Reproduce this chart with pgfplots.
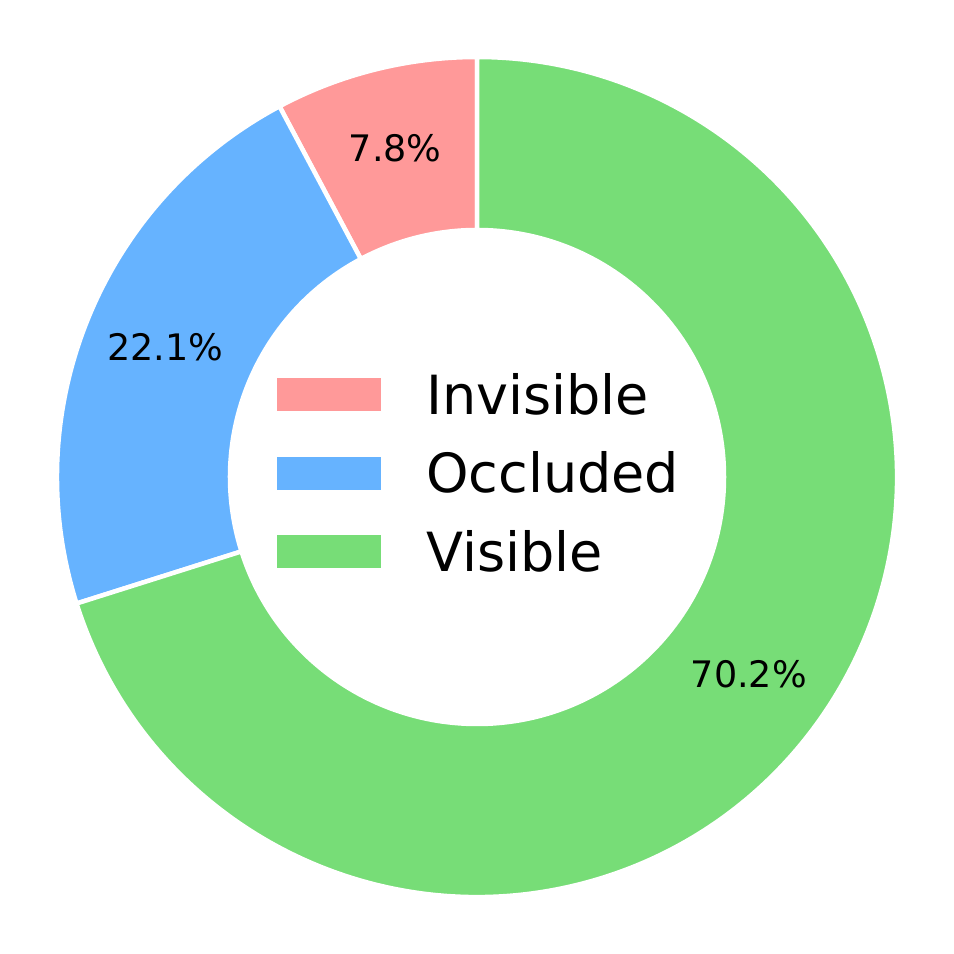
\documentclass[border=0pt]{standalone}
\usepackage{pgfplots}
\pgfplotsset{compat=1.18}
\usepackage{pgfplotstable}
\usepackage{fontspec}
\setmainfont{DejaVu Sans}

\definecolor{invis}{HTML}{FF9999}
\definecolor{occl}{HTML}{66B3FF}
\definecolor{vis}{HTML}{77DD77}

\newcommand\labelfont{\fontsize{36.5}{44}\selectfont}

% share of each class, in percent
\pgfplotstableread{
name      pct  col
Invisible 7.8  invis
Occluded  22.1 occl
Visible   70.2 vis
}\shares
\pgfplotstablecreatecol[expr accum={\pgfmathaccuma+\thisrow{pct}}{0}]{cum}\shares
\pgfplotstablegetrowsof{\shares}%
\pgfmathtruncatemacro\lastrow{\pgfplotsretval-1}%
\pgfplotstablegetelem{\lastrow}{cum}\of\shares
\let\total\pgfplotsretval

\begin{document}
\begin{tikzpicture}
\begin{axis}[
  name=ax,
  width=954pt, height=954pt, scale only axis,
  xmin=-477, xmax=477, ymin=-477, ymax=477,
  hide axis, clip=false,
  legend cell align=left,
  legend style={at={(0.5,0.5)}, anchor=center, xshift=2pt, yshift=4pt,
    draw=none, fill=none,
    font=\fontsize{54}{65}\selectfont, row sep=32pt,
    /tikz/every odd column/.append style={column sep=44pt}},
]
\pgfplotsforeachungrouped \i in {0,...,\lastrow}{%
  \pgfplotstablegetelem{\i}{pct}\of\shares \let\wPct\pgfplotsretval
  \pgfplotstablegetelem{\i}{cum}\of\shares \let\wCum\pgfplotsretval
  \pgfplotstablegetelem{\i}{col}\of\shares \let\wCol\pgfplotsretval
  \pgfmathsetmacro\wE{90+(\wCum/\total)*360}%
  \pgfmathsetmacro\wS{\wE-(\wPct/\total)*360}%
  \pgfmathsetmacro\wM{(\wS+\wE)/2}%
  \edef\wedgecmd{%
    \noexpand\fill[\wCol, draw=white, line width=4.5pt]
      ([shift={(\wS:420pt)}]axis cs:0,0) arc[start angle=\wS, end angle=\wE, radius=420pt]
      -- ([shift={(\wE:247pt)}]axis cs:0,0) arc[start angle=\wE, end angle=\wS, radius=247pt]
      -- cycle;
    \noexpand\node[font=\noexpand\labelfont, yshift=2pt] at ([shift={(\wM:337pt)}]axis cs:0,0)
      {\noexpand\pgfmathprintnumber[fixed,precision=1,fixed zerofill,assume math mode=true]{\wPct}\noexpand\%};
  }%
  \wedgecmd
}
\addlegendimage{legend image code/.code={\fill[invis] (0pt,-16pt) rectangle (103pt,16pt);}}
\addlegendentry{Invisible}
\addlegendimage{legend image code/.code={\fill[occl] (0pt,-16pt) rectangle (103pt,16pt);}}
\addlegendentry{Occluded}
\addlegendimage{legend image code/.code={\fill[vis] (0pt,-16pt) rectangle (103pt,16pt);}}
\addlegendentry{Visible}
\end{axis}
\pgfresetboundingbox
\path (ax.south west) rectangle (ax.north east);
\end{tikzpicture}
\end{document}
